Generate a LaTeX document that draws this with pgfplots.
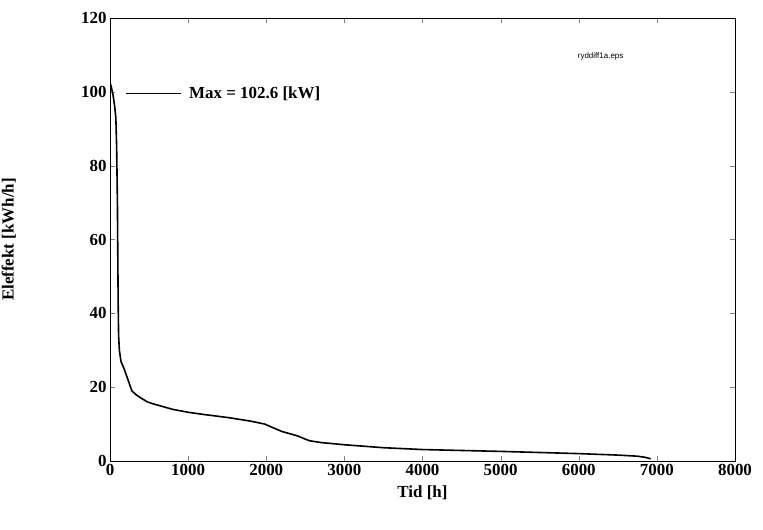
\documentclass[border=0pt]{standalone}
\usepackage{pgfplots}
\pgfplotsset{compat=1.18}
\usepackage{fontspec}
\setmainfont{Liberation Serif}
\setsansfont{Liberation Sans}
\begin{document}
\begin{tikzpicture}[x=1bp,y=1bp]
\useasboundingbox (0,0) rectangle (763,530);
\begin{axis}[at={(110bp,69bp)},anchor=origin,scale only axis,width=625bp,height=443bp,
 xmin=0,xmax=8000,ymin=0,ymax=120,xtick={0,1000,...,8000},ytick={0,20,...,120},
 tick align=inside,major tick length=5bp,
 tick label style={font=\fontsize{17}{19}\selectfont\bfseries},
 /pgf/number format/assume math mode=true,
 scaled x ticks=false,xticklabel style={/pgf/number format/1000 sep={}},
 xlabel={Tid [h]},ylabel={Eleffekt [kWh/h]},
 label style={font=\fontsize{17}{19}\selectfont\bfseries},
 xlabel style={yshift=-3bp},ylabel style={at={(rel axis cs:-0.145,0.5)}},
 axis line style={line width=0.8bp},
 legend style={at={(0.02,0.83)},anchor=west,draw=none,fill=none,font=\fontsize{17}{19}\selectfont\bfseries},
 legend cell align=left,legend image post style={line width=0.5bp},
 legend image code/.code={\draw[#1] (0bp,0bp) -- (55bp,0bp);},
 ]
\addplot[black,line width=1.6bp] coordinates {(0,102.6)(20,101)(40,99)(60,96)(75,93)(85,85)(95,70)(100,55)(105,42)(110,34)(120,30)(140,27)(180,25)(230,22)(280,19)(330,18)(400,17)(480,16)(550,15.5)(700,14.6)(800,14)(1000,13.2)(1200,12.6)(1500,11.8)(1800,10.8)(1980,10)(2100,8.9)(2200,8)(2400,6.8)(2550,5.5)(2700,5)(2800,4.8)(3000,4.4)(3500,3.6)(4000,3.1)(5000,2.6)(6000,2)(6500,1.6)(6750,1.3)(6850,1.0)(6920,0.6)};
\addlegendentry{\hspace{6bp}Max = 102.6 [kW]}
\node[font=\sffamily\fontsize{8}{9}\selectfont] at (axis cs:6280,109.5) {ryddiff1a.eps};
\end{axis}
\end{tikzpicture}
\end{document}
